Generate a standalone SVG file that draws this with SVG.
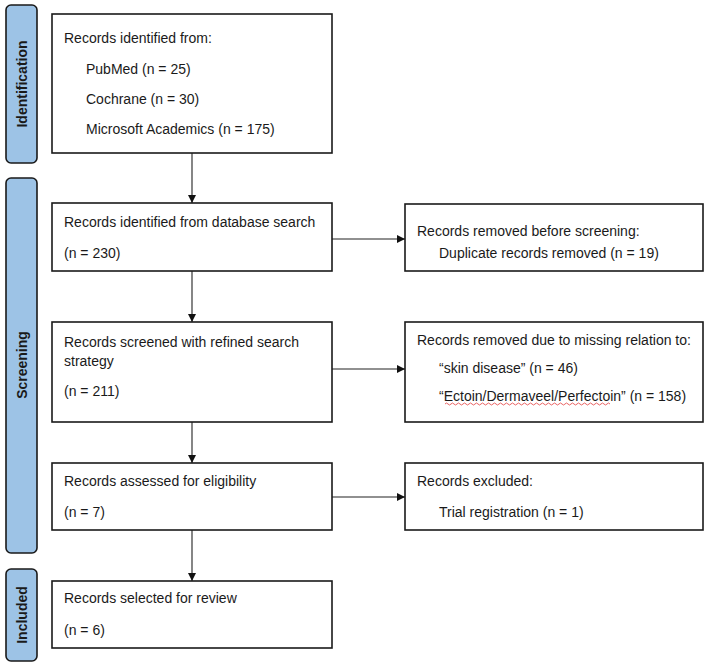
<svg xmlns="http://www.w3.org/2000/svg" width="708" height="666" viewBox="0 0 708 666">
<style>
.box{fill:#fff;stroke:#1a1a1a;stroke-width:1.6}
.side{fill:#9dc3e6;stroke:#1a1a1a;stroke-width:1.6}
.t{font-family:"Liberation Sans",Arial,sans-serif;font-size:14px;fill:#1a1a1a}
.lbl{font-family:"Liberation Sans",Arial,sans-serif;font-size:14px;font-weight:bold;fill:#1a1a1a;text-anchor:middle}
.c{stroke:#222;stroke-width:1.1;fill:none;marker-end:url(#ah)}
</style>
<defs>
<marker id="ah" viewBox="0 0 10 10" refX="10" refY="5" markerWidth="8" markerHeight="8" markerUnits="userSpaceOnUse" orient="auto">
<path d="M0,0 L10,5 L0,10 z" fill="#111"/>
</marker>
</defs>
<rect width="708" height="666" fill="#fff"/>
<g id="phase-identification">
<rect class="side" x="6" y="5" width="31" height="158" rx="5"/>
<text class="lbl" transform="translate(27,84) rotate(-90)">Identification</text>
</g>
<g id="phase-screening">
<rect class="side" x="6" y="178" width="31" height="375" rx="5"/>
<text class="lbl" transform="translate(27,365) rotate(-90)">Screening</text>
</g>
<g id="phase-included">
<rect class="side" x="6" y="569" width="31" height="92" rx="5"/>
<text class="lbl" transform="translate(27,615) rotate(-90)">Included</text>
</g>
<g id="connectors">
<path class="c" d="M192,153 V203"/>
<path class="c" d="M192,271 V322"/>
<path class="c" d="M192,422 V463"/>
<path class="c" d="M192,530 V581"/>
<path class="c" d="M332,239 H405"/>
<path class="c" d="M332,369 H405"/>
<path class="c" d="M332,497 H405"/>
</g>
<g id="node-identified">
<rect class="box" x="52" y="14" width="280" height="139"/>
<text class="t" x="64" y="43">Records identified from:</text>
<text class="t" x="86" y="74">PubMed (n = 25)</text>
<text class="t" x="86" y="104">Cochrane (n = 30)</text>
<text class="t" x="86" y="134">Microsoft Academics (n = 175)</text>
</g>
<g id="node-database">
<rect class="box" x="52" y="203" width="280" height="68"/>
<text class="t" x="64" y="227">Records identified from database search</text>
<text class="t" x="64" y="258">(n = 230)</text>
</g>
<g id="node-removed-before">
<rect class="box" x="405" y="204" width="298" height="67"/>
<text class="t" x="417" y="236">Records removed before screening:</text>
<text class="t" x="439" y="258">Duplicate records removed (n = 19)</text>
</g>
<g id="node-screened">
<rect class="box" x="52" y="322" width="280" height="100"/>
<text class="t" x="64" y="347">Records screened with refined search</text>
<text class="t" x="64" y="366">strategy</text>
<text class="t" x="64" y="396">(n = 211)</text>
</g>
<g id="node-removed-relation">
<rect class="box" x="405" y="322" width="298" height="100"/>
<text class="t" x="417" y="345">Records removed due to missing relation to:</text>
<text class="t" x="439" y="373">“skin disease” (n = 46)</text>
<text class="t" x="439" y="401">“Ectoin/Dermaveel/Perfectoin” (n = 158)</text>
<path d="M445,404 q1.5,-2 3,0 t3,0 t3,0 t3,0 t3,0 t3,0 t3,0 t3,0 t3,0 t3,0 t3,0 t3,0 t3,0 t3,0 t3,0 t3,0 t3,0 t3,0 t3,0 t3,0 t3,0 t3,0 t3,0 t3,0 t3,0 t3,0 t3,0 t3,0 t3,0 t3,0 t3,0 t3,0 t3,0 t3,0 t3,0 t3,0 t3,0 t3,0 t3,0 t3,0 t3,0 t3,0 t3,0 t3,0 t3,0 t3,0 t3,0 t3,0 t3,0 t3,0 t3,0 t3,0 t3,0 t3,0 t3,0" fill="none" stroke="#e23c3c" stroke-width="0.8"/>
</g>
<g id="node-assessed">
<rect class="box" x="52" y="463" width="280" height="67"/>
<text class="t" x="64" y="486">Records assessed for eligibility</text>
<text class="t" x="64" y="517">(n = 7)</text>
</g>
<g id="node-excluded">
<rect class="box" x="405" y="463" width="298" height="67"/>
<text class="t" x="417" y="486">Records excluded:</text>
<text class="t" x="439" y="517">Trial registration (n = 1)</text>
</g>
<g id="node-selected">
<rect class="box" x="52" y="581" width="280" height="67"/>
<text class="t" x="64" y="603">Records selected for review</text>
<text class="t" x="64" y="635">(n = 6)</text>
</g>
</svg>
